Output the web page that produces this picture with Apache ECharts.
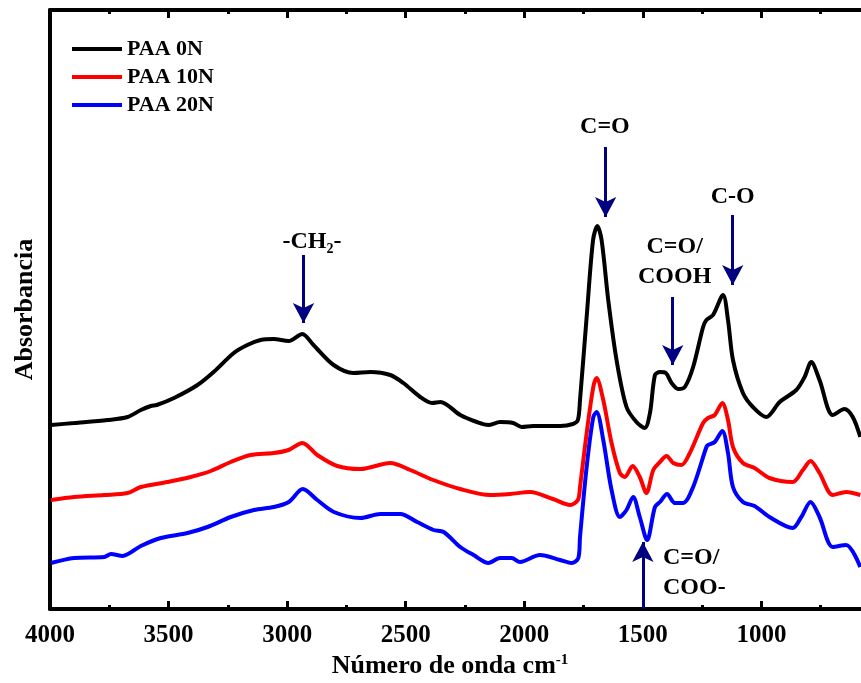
<!DOCTYPE html>
<html>
<head>
<meta charset="utf-8">
<script src="https://cdn.jsdelivr.net/npm/echarts@6/dist/echarts.min.js"></script>
<style>html,body{margin:0;padding:0;background:#fff;overflow:hidden}#c{width:861px;height:683px}</style>
</head>
<body>
<div id="c"></div>
<script>
// Wavenumbers (cm-1) and absorbance (arbitrary units)
const seriesNames = ['PAA 0N', 'PAA 10N', 'PAA 20N'];
const seriesColors = ['#000000', '#ff0000', '#0000ff'];

const wn0 = [3996,3898,3757,3673,3617,3575,3550,3477,3378,3310,3225,3168,3112,3057,2994,2936,2889,2804,2720,2649,2565,2510,2439,2389,2354,2270,2200,2152,2102,2047,2011,1963,1849,1795,1774,1765,1737,1710,1692,1674,1646,1611,1569,1527,1492,1470,1449,1428,1403,1379,1351,1323,1288,1246,1232,1204,1162,1141,1120,1078,1036,980,923,853,818,790,755,699,650,615,583];
const abs0 = [1.84,1.86,1.89,1.92,1.99,2.03,2.04,2.11,2.24,2.37,2.56,2.64,2.69,2.70,2.68,2.75,2.64,2.44,2.36,2.37,2.34,2.26,2.12,2.06,2.07,1.94,1.87,1.84,1.87,1.86,1.82,1.83,1.83,1.85,1.89,2.09,2.92,3.69,3.83,3.69,3.09,2.49,2.02,1.87,1.81,1.96,2.34,2.37,2.36,2.26,2.20,2.22,2.42,2.82,2.89,2.94,3.14,2.89,2.49,2.16,2.02,1.92,2.07,2.19,2.32,2.47,2.29,1.94,2.00,1.92,1.72];

const wn1 = [3996,3898,3772,3673,3617,3505,3407,3322,3238,3154,3057,2994,2936,2873,2789,2691,2565,2481,2384,2270,2144,2060,1976,1879,1807,1774,1765,1737,1709,1695,1667,1632,1597,1576,1543,1513,1485,1456,1428,1400,1372,1337,1302,1246,1225,1197,1165,1141,1120,1078,1029,966,868,825,793,755,699,643,583];
const abs1 = [1.09,1.12,1.14,1.16,1.22,1.27,1.32,1.38,1.47,1.54,1.56,1.59,1.66,1.54,1.43,1.40,1.46,1.39,1.29,1.20,1.14,1.15,1.17,1.10,1.04,1.09,1.22,1.76,2.22,2.31,2.09,1.66,1.36,1.32,1.43,1.32,1.16,1.39,1.47,1.53,1.46,1.44,1.56,1.86,1.91,1.94,2.06,1.89,1.62,1.46,1.41,1.31,1.27,1.39,1.48,1.36,1.14,1.17,1.14];

const wn2 = [3996,3898,3771,3743,3694,3617,3533,3420,3336,3238,3140,3056,2993,2934,2873,2803,2691,2607,2523,2452,2383,2340,2270,2214,2151,2102,2053,2018,1934,1849,1800,1772,1765,1737,1709,1695,1667,1632,1597,1569,1541,1513,1482,1449,1428,1398,1365,1330,1288,1232,1225,1197,1165,1141,1120,1078,1029,966,868,832,793,755,699,643,583];
const abs2 = [0.46,0.51,0.52,0.55,0.53,0.63,0.71,0.76,0.82,0.92,0.99,1.02,1.07,1.20,1.09,0.97,0.91,0.95,0.95,0.87,0.79,0.77,0.62,0.54,0.46,0.51,0.51,0.47,0.54,0.49,0.46,0.51,0.72,1.42,1.92,1.97,1.69,1.19,0.92,0.99,1.12,0.92,0.69,1.02,1.07,1.15,1.06,1.06,1.22,1.62,1.64,1.67,1.78,1.56,1.22,1.07,1.03,0.92,0.81,0.92,1.07,0.92,0.62,0.64,0.42];

// Annotation arrows: [wavenumber, start value, end (tip) value]
const arrows = [[2931,3.54,2.86],[1657,4.62,3.92],[1121,3.94,3.24],[1374,3.12,2.44],[1500,0.0,0.67]];
// Annotation labels: [wavenumber, value, text, align]
const notes = [
  [2895,3.67,'-CH{sub|2}-','center'],
  [1660,4.82,'C=O','center'],
  [1121,4.12,'C-O','center'],
  [1366,3.47,'C=O/\nCOOH','center'],
  [1415,0.365,'C=O/\nCOO-','left']
];
const xTicksHidden = [500];

const FONT = 'Liberation Serif';
const wns = [wn0, wn1, wn2];
const abss = [abs0, abs1, abs2];

const series = seriesNames.map((n, i) => ({
  name: n,
  type: 'line',
  data: wns[i].map((w, k) => [w, abss[i][k]]),
  symbol: 'none',
  smooth: 0.3,
  lineStyle: { color: seriesColors[i], width: 4 },
  itemStyle: { color: seriesColors[i] },
  z: 3 - i
}));

series.push({
  name: 'annot',
  type: 'line',
  data: [],
  symbol: 'none',
  silent: true,
  markLine: {
    silent: true,
    animation: false,
    symbol: ['none', 'arrow'],
    symbolSize: [16, 20],
    label: { show: false },
    lineStyle: { color: '#000080', width: 3, type: 'solid' },
    data: arrows.map(a => [{ coord: [a[0], a[1]] }, { coord: [a[0], a[2]] }])
  },
  markPoint: {
    silent: true,
    animation: false,
    symbol: 'circle',
    symbolSize: 0,
    itemStyle: { color: 'rgba(0,0,0,0)' },
    data: notes.map(n => ({
      coord: [n[0], n[1]],
      label: {
        show: true,
        position: 'inside',
        formatter: n[2],
        align: n[3],
        color: '#000',
        fontFamily: FONT,
        fontWeight: 'bold',
        fontSize: 24,
        lineHeight: 30,
        rich: {
          sub: { fontFamily: FONT, fontWeight: 'bold', fontSize: 14, padding: [14, 0, 0, 0], color: '#000' }
        }
      }
    }))
  }
});

const chart = echarts.init(document.getElementById('c'), null, { renderer: 'canvas' });
const commonX = {
  type: 'value', inverse: true, min: 500, max: 4000, interval: 500,
  splitLine: { show: false },
  minorTick: { show: true, splitNumber: 2, length: 4, lineStyle: { color: '#000', width: 3 } },
  axisTick: { show: true, inside: true, length: 8, lineStyle: { color: '#000', width: 3 } },
  axisLine: { show: true, onZero: false, lineStyle: { color: '#000', width: 4 } }
};
chart.setOption({
  animation: false,
  backgroundColor: '#fff',
  grid: { left: 50, width: 830, top: 10, bottom: 74, containLabel: false, outerBoundsMode: 'none' },
  legend: {
    data: seriesNames.map(n => ({ name: n, icon: 'rect' })),
    orient: 'vertical',
    left: 67, top: 33,
    itemWidth: 50, itemHeight: 4, itemGap: 6,
    textStyle: { fontFamily: FONT, fontWeight: 'bold', fontSize: 22, lineHeight: 22, color: '#000' }
  },
  xAxis: [
    Object.assign({}, commonX, {
      position: 'bottom',
      name: 'Número de onda cm{sup|-1}',
      nameLocation: 'middle',
      nameGap: 43,
      nameTextStyle: {
        fontFamily: FONT, fontWeight: 'bold', fontSize: 26, color: '#000', padding: [0, 30, 0, 0],
        rich: { sup: { fontFamily: FONT, fontWeight: 'bold', fontSize: 15, verticalAlign: 'top', padding: [0, 0, 12, 0], color: '#000' } }
      },
      axisLabel: {
        fontFamily: FONT, fontWeight: 'bold', fontSize: 25, color: '#000', margin: 14,
        formatter: v => (xTicksHidden.indexOf(v) >= 0 ? '' : String(v))
      }
    }),
    Object.assign({}, commonX, { position: 'top', axisLabel: { show: false } })
  ],
  yAxis: {
    type: 'value', min: 0, max: 5.99,
    name: 'Absorbancia', nameLocation: 'middle', nameGap: 12,
    nameTextStyle: { fontFamily: FONT, fontWeight: 'bold', fontSize: 26, color: '#000' },
    axisLine: { show: true, lineStyle: { color: '#000', width: 4 } },
    axisTick: { show: false }, axisLabel: { show: false }, splitLine: { show: false }
  },
  series: series
});
</script>
</body>
</html>
